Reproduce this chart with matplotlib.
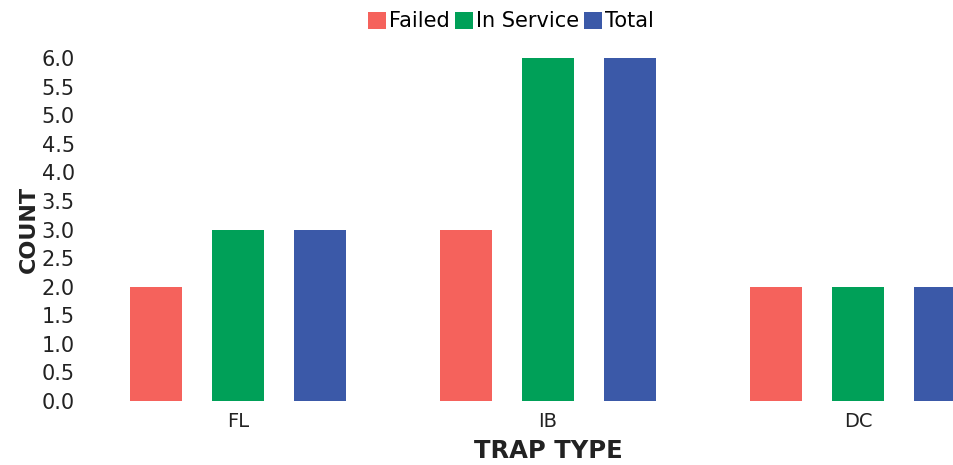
import matplotlib.pyplot as plt
import numpy as np

# trap counts per type
trap_types = ["FL", "IB", "DC"]
failed = [2, 3, 2]
in_service = [3, 6, 2]
total = [3, 6, 2]

series = [("Failed", failed, "#f5625c"),
          ("In Service", in_service, "#00a058"),
          ("Total", total, "#3b59a8")]

W, H = 954, 465
fig = plt.figure(figsize=(W / 100, H / 100), dpi=100)
# axes run past the right edge of the figure, like the original
ax = fig.add_axes([83 / W, (H - 401) / H, 930 / W, 343 / H])

x = np.arange(len(trap_types))
width = 0.168
step = 0.2645
for i, (name, vals, color) in enumerate(series):
    ax.bar(x + (i - 1) * step, vals, width, color=color, label=name,
           linewidth=0, clip_on=False)

ax.set_xlim(-0.5, 2.5)
ax.set_ylim(0, 6)
ax.set_yticks(np.arange(0, 6.01, 0.5))
ax.set_yticklabels([f"{v:.1f}" for v in np.arange(0, 6.01, 0.5)])
ax.set_xticks(x)
ax.set_xticklabels(trap_types)
ax.tick_params(axis="y", length=0, labelsize=15, pad=6, labelcolor="#222222")
ax.tick_params(axis="x", length=0, labelsize=14, pad=8, labelcolor="#222222")
for s in ax.spines.values():
    s.set_visible(False)

ax.set_ylabel("COUNT", fontsize=16, fontweight="bold", labelpad=2, color="#222222")
ax.set_xlabel("TRAP TYPE", fontsize=17.5, fontweight="bold", labelpad=6, color="#222222")

fig.legend(loc="upper center", bbox_to_anchor=(511 / W, 1.0), ncol=3, frameon=False,
           fontsize=15, handlelength=0.85, handleheight=0.85, handletextpad=0.15,
           columnspacing=0.25, borderaxespad=0.15,
           prop={"size": 15, "weight": "medium"})

fig.savefig("out.png", dpi=100)
